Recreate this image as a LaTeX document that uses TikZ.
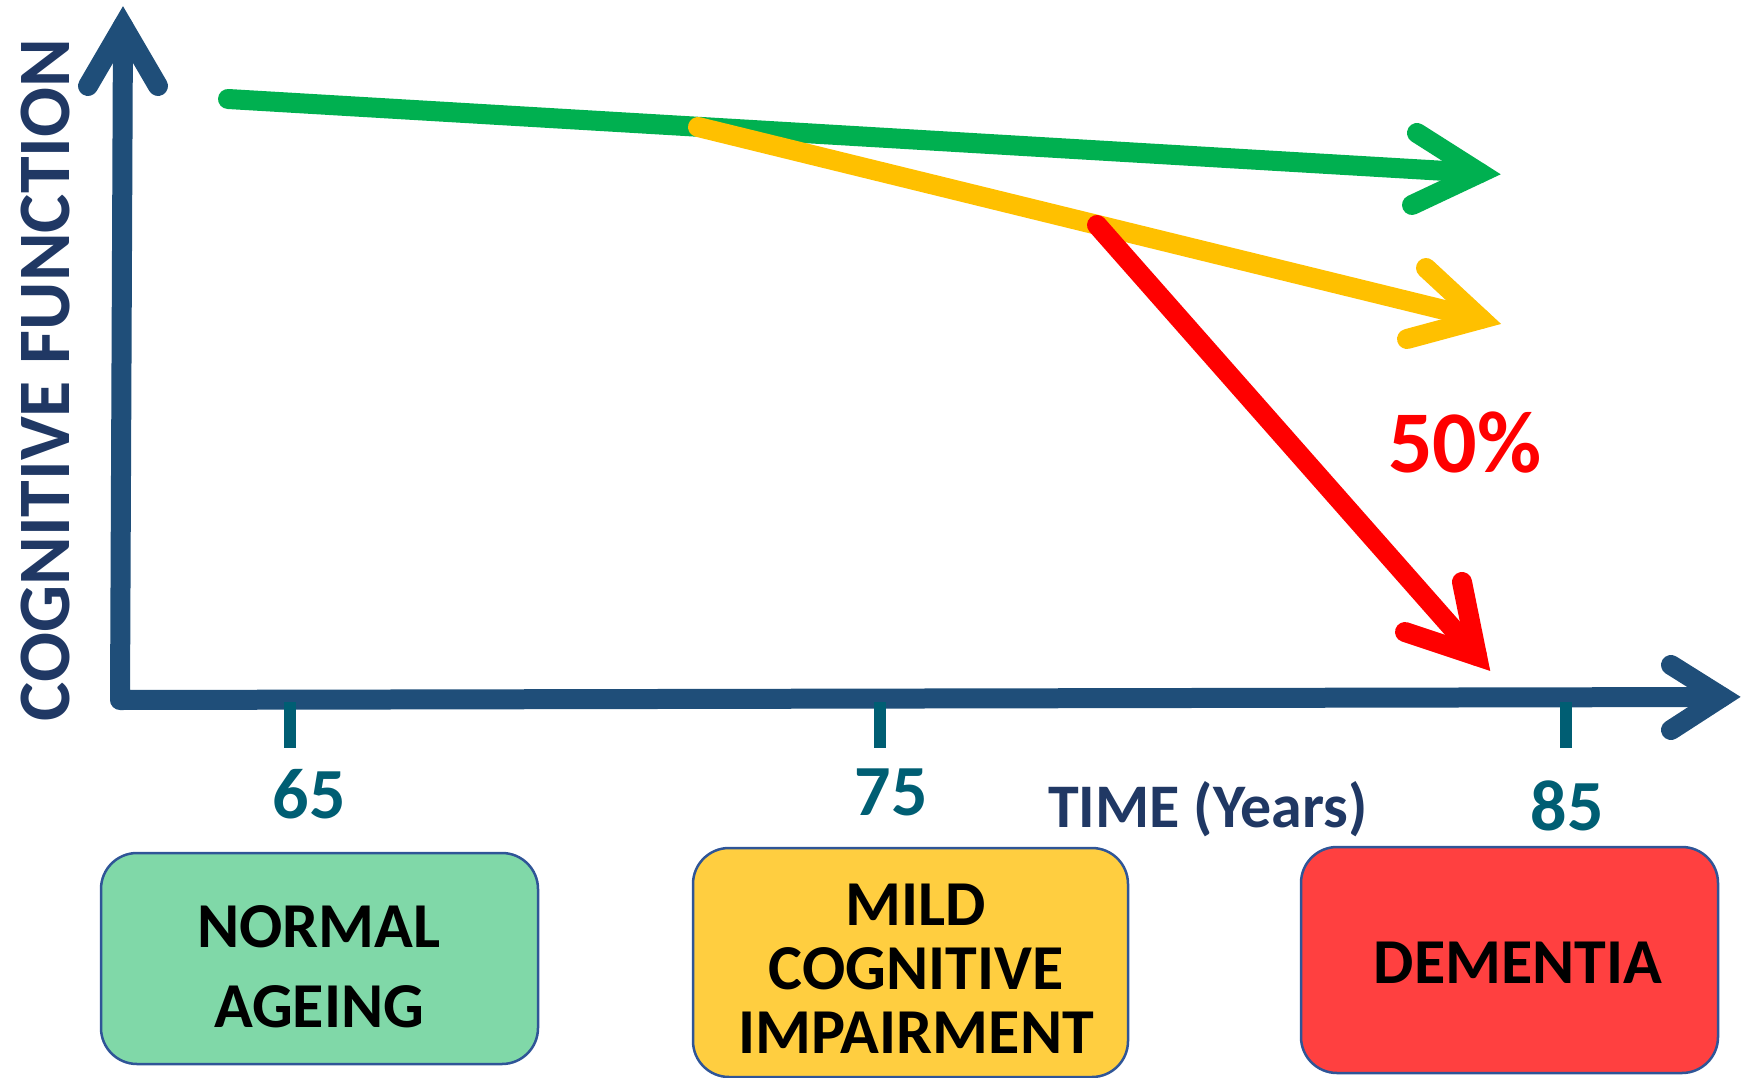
\documentclass[tikz,border=0pt]{standalone}
\usepackage{fontspec}
\setmainfont{Carlito}
\usetikzlibrary{calc}
\definecolor{axisblue}{RGB}{31,78,121}
\definecolor{navytext}{RGB}{32,56,100}
\definecolor{tealnum}{RGB}{0,94,115}
\definecolor{lgreen}{RGB}{0,176,80}
\definecolor{lyellow}{RGB}{255,192,0}
\definecolor{lred}{RGB}{255,0,0}
\definecolor{boxgreen}{RGB}{128,216,168}
\definecolor{boxyellow}{RGB}{255,206,64}
\definecolor{boxred}{RGB}{255,64,64}
\definecolor{boxborder}{RGB}{47,85,151}
\begin{document}
\begin{tikzpicture}[x=1pt,y=-1pt,
  thickline/.style={line width=20pt, line cap=round, line join=round},
  chevron/.style={line width=20pt, line cap=round, line join=miter, miter limit=10},
  tickline/.style={line width=12pt, line cap=butt, draw=tealnum},
  numlabel/.style={inner sep=0pt, text=tealnum, font=\bfseries\fontsize{72}{72}\selectfont},
  stagebox/.style={draw=boxborder, line width=2.5pt, rounded corners=36pt, inner sep=0pt},
  boxtext/.style={inner sep=0pt, align=center, text=black}
]
\useasboundingbox (0,0) rectangle (1742,1078);

% axes
\coordinate (ytip) at (123,26);
\coordinate (origin) at (120,700);
\coordinate (xtip) at (1722,697);
\coordinate (yarmL) at (88,86);
\coordinate (yarmR) at (158,86);
\coordinate (xarmT) at (1671,665);
\coordinate (xarmB) at (1671,730);
\draw[thickline, draw=axisblue] (ytip) -- (origin) -- (xtip);
\draw[chevron, draw=axisblue] (yarmL) -- (ytip) -- (yarmR);
\draw[chevron, draw=axisblue] (xarmT) -- (xtip) -- (xarmB);

% ticks
\coordinate (t65) at (290,702);
\coordinate (t75) at (880,702);
\coordinate (t85) at (1566,702);
\draw[tickline] (t65) -- ++(0,46);
\draw[tickline] (t75) -- ++(0,46);
\draw[tickline] (t85) -- ++(0,46);

\node[numlabel, anchor=base] (l65) at (309,818) {65};
\node[numlabel, anchor=base] (l75) at (891,815) {75};
\node[numlabel, anchor=base] (l85) at (1567,830) {85};
\node[inner sep=0pt, anchor=base west, text=navytext, font=\bfseries\fontsize{62}{62}\selectfont] (ltime) at (1048,827) {TIME (Years)};
\node[inner sep=0pt, anchor=base, rotate=90, text=navytext, font=\bfseries\fontsize{74}{74}\selectfont] (ylab) at (69,380) {COGNITIVE FUNCTION};

% green: normal ageing
\coordinate (gs) at (228,99);
\coordinate (gv) at (1480,173);
\coordinate (ga1) at (1417,133);
\coordinate (ga2) at (1412,205);
\draw[thickline, draw=lgreen] (gs) -- (gv);
\draw[chevron, draw=lgreen] (ga1) -- (gv) -- (ga2);

% yellow: MCI
\coordinate (ys) at (698,127);
\coordinate (yv) at (1481,319);
\coordinate (ya1) at (1426,268);
\coordinate (ya2) at (1407,339);
\draw[thickline, draw=lyellow] (ys) -- (yv);
\draw[chevron, draw=lyellow] (ya1) -- (yv) -- (ya2);

% red: dementia
\coordinate (rs) at (1097,225);
\coordinate (rv) at (1477,656);
\coordinate (ra1) at (1462,582);
\coordinate (ra2) at (1405,632);
\draw[thickline, draw=lred] (rs) -- (rv);
\draw[chevron, draw=lred] (ra1) -- (rv) -- (ra2);

\node[inner sep=0pt, anchor=base, text=lred, font=\bfseries\fontsize{88}{88}\selectfont] (pct) at (1465,472) {50\%};

% stage boxes
\node[stagebox, fill=boxgreen, minimum width=437pt, minimum height=211pt] (bna) at (319.5,958.5) {};
\node[stagebox, fill=boxyellow, minimum width=435pt, minimum height=229pt] (bmci) at (910.5,962.5) {};
\node[stagebox, fill=boxred, minimum width=417pt, minimum height=226pt] (bdem) at (1509.5,960) {};

\node[boxtext, font=\bfseries\fontsize{64}{80}\selectfont] (tna) at (319,967) {NORMAL\\AGEING};
\node[boxtext, font=\bfseries\fontsize{64}{64}\selectfont] (tmci) at (916,969) {MILD\\COGNITIVE\\IMPAIRMENT};
\node[boxtext, font=\bfseries\fontsize{64}{64}\selectfont] (tdem) at (1518,962.5) {DEMENTIA};
\end{tikzpicture}
\end{document}
